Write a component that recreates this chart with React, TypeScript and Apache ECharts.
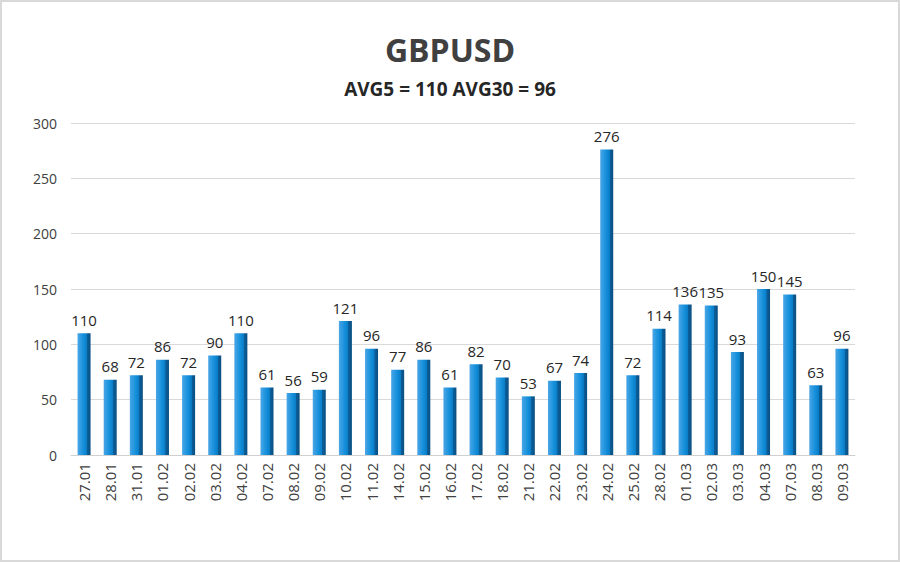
import React, { useEffect, useRef } from "react";
import * as echarts from "echarts";

const categories = ["27.01","28.01","31.01","01.02","02.02","03.02","04.02","07.02","08.02","09.02","10.02","11.02","14.02","15.02","16.02","17.02","18.02","21.02","22.02","23.02","24.02","25.02","28.02","01.03","02.03","03.03","04.03","07.03","08.03","09.03"];
const values = [110,68,72,86,72,90,110,61,56,59,121,96,77,86,61,82,70,53,67,74,276,72,114,136,135,93,150,145,63,96];
const titleText = "GBPUSD";
const subtitleText = "AVG5 = 110 AVG30 = 96";
const yMin = 0;
const yMax = 300;
const yStep = 50;

export default function App() {
  const ref = useRef<HTMLDivElement>(null);
  useEffect(() => {
    const chart = echarts.init(ref.current!, null, { renderer: "svg" });
    const font = "'Open Sans', 'Noto Sans', sans-serif";
    chart.setOption({
      animation: false,
      backgroundColor: "#ffffff",
      textStyle: { fontFamily: font },
      title: {
        text: titleText,
        subtext: subtitleText,
        left: "center",
        top: 26,
        itemGap: 14,
        textStyle: { fontSize: 32, fontWeight: "bold", color: "#404040", fontFamily: font },
        subtextStyle: { fontSize: 19, fontWeight: "bold", color: "#262626", fontFamily: font },
      },
      grid: { left: 69, right: 43, top: 121, bottom: 105 },
      xAxis: {
        type: "category",
        data: categories,
        axisLine: { show: true, lineStyle: { color: "#d0d0d0", width: 1 } },
        axisTick: { show: false },
        axisLabel: { rotate: 90, interval: 0, fontSize: 15, color: "#404040", margin: 8, fontFamily: font },
      },
      yAxis: {
        type: "value",
        min: yMin,
        max: yMax,
        interval: yStep,
        axisLine: { show: false },
        axisTick: { show: false },
        splitLine: { lineStyle: { color: "#d9d9d9", width: 1 } },
        axisLabel: { fontSize: 14, color: "#404040", margin: 14, fontFamily: font },
      },
      series: [
        {
          type: "bar",
          data: values,
          barWidth: 13,
          itemStyle: {
            color: new echarts.graphic.LinearGradient(0, 0, 1, 0, [
              { offset: 0, color: "#4aa6e6" },
              { offset: 0.45, color: "#1590dc" },
              { offset: 0.72, color: "#0a7cc6" },
              { offset: 0.74, color: "#0b5f9a" },
              { offset: 1, color: "#0a4f82" },
            ]),
          },
          label: {
            show: true,
            position: "top",
            distance: 6,
            fontSize: 15,
            color: "#262626",
            fontFamily: font,
          },
        },
      ],
    });
    return () => chart.dispose();
  }, []);
  return (
    <div
      style={{
        position: "fixed",
        left: 0,
        top: 0,
        width: 900,
        height: 562,
        boxSizing: "border-box",
        border: "2px solid #d9d9d9",
        background: "#fff",
      }}
    >
      <div ref={ref} style={{ width: 896, height: 558 }} />
    </div>
  );
}
